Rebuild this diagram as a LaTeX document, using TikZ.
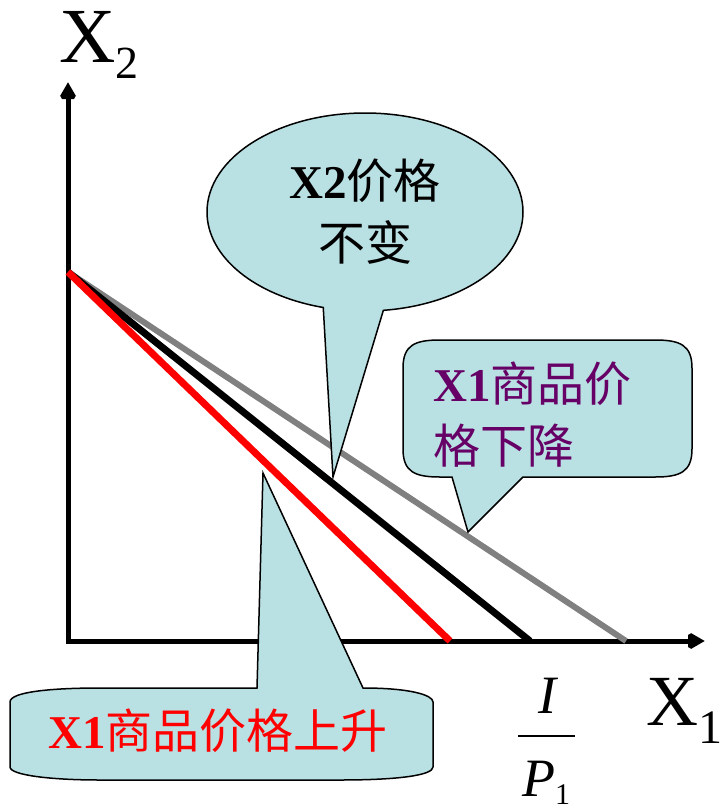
\documentclass[tikz,border=0pt]{standalone}
\usepackage{fontspec}
\setmainfont{Liberation Serif}
\newfontfamily\cjk{Noto Sans CJK SC}
\usepackage{tikz}
\usetikzlibrary{%
  arrows.meta,
  shapes.geometric,
  shapes.callouts}
\definecolor{bubblefill}{RGB}{185,224,227}
\definecolor{tagpurple}{RGB}{102,0,102}
\tikzset{
  %% Axes
  axes/.style={
    line width=5pt, miter limit=2,
    {Triangle[length=17pt,width=18pt]}-{Triangle[length=17pt,width=18pt]}},
  %% Budget lines
  budget/.style={line width=7pt},
  %% Callouts
  bubble/.style={draw=black, line width=1.5pt, fill=bubblefill},
  bubbletext/.style={
    inner sep=0pt, font=\fontsize{47}{62}\selectfont},
  %% Axis labels
  axislabel/.style={inner sep=0pt, font=\fontsize{78}{78}\selectfont},
  fraclabel/.style={inner sep=0pt, font=\fontsize{54}{54}\selectfont\itshape},
}
\begin{document}
\begin{tikzpicture}[x=1pt, y=-1pt]
  \useasboundingbox (0,0) rectangle (723,812);

  %% Axes
  \coordinate (O)    at (68,641);
  \coordinate (ytop) at (68,82);
  \coordinate (xend) at (705,641);
  \draw[axes] (ytop) -- (O) -- (xend);

  \node[axislabel, anchor=base west] (xtwo) at (59,62)
        {X\raisebox{-16pt}{\fontsize{46}{46}\selectfont 2}};
  \node[axislabel, font=\fontsize{72}{72}\selectfont, anchor=base west] (xone)
        at (646,725) {X\raisebox{-18pt}{\fontsize{48}{48}\selectfont 1}};

  %% Intercept I/P1
  \node[fraclabel, anchor=base] (fracI) at (547,713) {I};
  \draw[line width=2pt] (518,736) -- (575,736);
  \node[fraclabel, anchor=base west] (fracP) at (522,796)
        {P\raisebox{-8pt}{\fontsize{30}{30}\selectfont\upshape 1}};

  %% Budget lines
  \coordinate (icept) at (68,272);
  \coordinate (grayend)  at (626,641);
  \coordinate (blackend) at (530,641);
  \coordinate (redend)   at (450,641);
  \draw[budget, line width=6pt, black!50] (icept) -- (grayend);
  \draw[budget, black] (icept) -- (blackend);
  \draw[budget, red] (icept) -- (redend);

  %% Callout: X2 price unchanged
  \coordinate (tipone) at (333,477);
  \node[ellipse callout, bubble, minimum width=316pt, minimum height=198pt,
        inner sep=0pt, callout absolute pointer={(tipone)},
        callout pointer arc=22, align=center,
        font=\fontsize{47}{62}\selectfont] (unchanged) at (365,212)
        {\textbf{X2}{\cjk 价格}\\{\cjk 不变}};

  %% Callout: X1 price falls
  \coordinate (tiptwo) at (468,532);
  \draw[bubble] (403,368) .. controls (403,345) and (415,340) .. (440,340)
        -- (655,340) .. controls (680,340) and (692,345) .. (692,368)
        -- (692,449) .. controls (692,472) and (680,477) .. (655,477)
        -- (523,477) -- (tiptwo) -- (452,477) -- (440,477)
        .. controls (415,477) and (403,472) .. (403,449) -- cycle;
  \node[bubbletext, text=tagpurple, align=left, anchor=west] (falls)
        at (433,415) {\textbf{X1}{\cjk 商品价}\\{\cjk 格下降}};

  %% Callout: X1 price rises
  \coordinate (tipthree) at (263,473);
  \draw[bubble] (10,702) .. controls (10,692) and (50,688) .. (100,688)
        -- (257,688) -- (tipthree) -- (363,688)
        .. controls (410,688) and (433,695) .. (433,702)
        -- (433,767) .. controls (433,775) and (400,780) .. (340,780)
        -- (100,780) .. controls (50,780) and (10,775) .. (10,767) -- cycle;
  \node[bubbletext, text=red] (rises) at (218,731)
        {\textbf{X1}{\cjk 商品价格上升}};

\end{tikzpicture}
\end{document}
